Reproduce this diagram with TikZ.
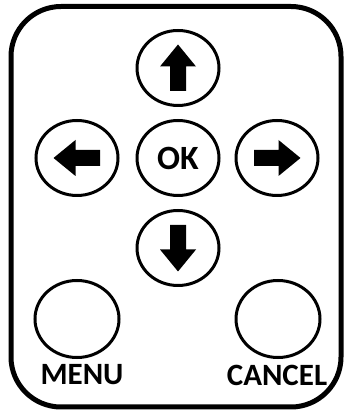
\documentclass[tikz,border=0pt]{standalone}
\usepackage{fontspec}
\setmainfont{Carlito}
\usetikzlibrary{shapes.geometric}

\tikzset{
    keybtn/.style={draw, ellipse, line width=3pt, inner sep=0pt,
        minimum width=82pt, minimum height=75pt},
    keylbl/.style={font=\fontsize{31}{31}\selectfont\bfseries, inner sep=0pt},
    keyarrow/.pic={
        \fill (-8,-23) -- (-8,1.5) -- (-18,1.5) -- (0,23.5)
              -- (18,1.5) -- (8,1.5) -- (8,-23) -- cycle;
    }
}

\begin{document}
\begin{tikzpicture}[x=1pt, y=1pt]
    % 1. Khung
    \useasboundingbox (0,0) rectangle (345,414);
    \draw[line width=5pt, rounded corners=50pt] (11,7) rectangle (341,407.5);

    % 2. Cac phim dieu huong
    \node[keybtn, font=\fontsize{34}{34}\selectfont\bfseries] (ok) at (178,256) {OK};
    \node[keybtn] (up)    at (178,346) {};
    \node[keybtn] (down)  at (178,166) {};
    \node[keybtn] (left)  at (77,256) {};
    \node[keybtn] (right) at (277,256) {};

    % 3. Mui ten
    \pic at (up)                {keyarrow};
    \pic[rotate=180] at (down)  {keyarrow};
    \pic[rotate=90] at (left)   {keyarrow};
    \pic[rotate=-90] at (right) {keyarrow};

    % 4. MENU va CANCEL
    \node[keybtn, minimum width=84pt, minimum height=77pt] (menu)   at (77,95) {};
    \node[keybtn, minimum width=84pt, minimum height=77pt] (cancel) at (278,95) {};
    \node[keylbl] (menulbl)   at (82,39) {MENU};
    \node[keylbl] (cancellbl) at (277,39) {CANCEL};
\end{tikzpicture}
\end{document}
